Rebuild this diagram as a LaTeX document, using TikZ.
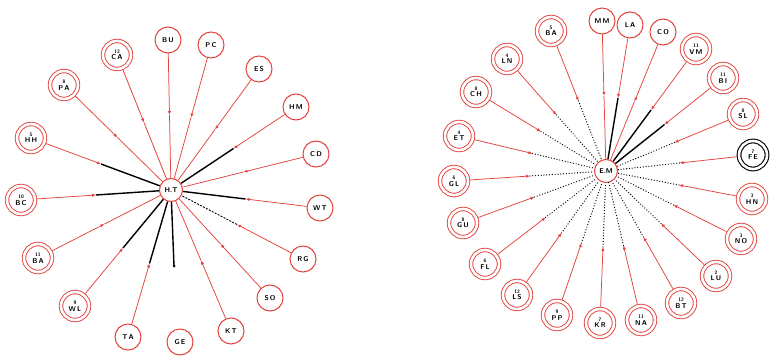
\documentclass[tikz,border=0pt]{standalone}
\usetikzlibrary{calc,arrows.meta}
\definecolor{myred}{RGB}{228,66,60}
\tikzset{
  lbl/.style={font=\sffamily\bfseries\fontsize{7}{6.5}\selectfont},
  sgl/.style={circle,draw=myred,line width=1pt,minimum size=26pt,inner sep=0pt,fill=white,lbl},
  dbl/.style={circle,draw=myred,line width=0.9pt,double=white,double distance=2.6pt,minimum size=28pt,inner sep=0pt,outer sep=2.2pt,fill=white,align=center,lbl},
  ctr/.style={circle,draw=myred,line width=1pt,minimum size=23pt,inner sep=0pt,fill=white,lbl},
  redln/.style={draw=myred,line width=0.75pt},
  blk/.style={draw=black,line width=1.4pt},
  dsh/.style={draw=black,line width=0.9pt,dash pattern=on 2pt off 1.3pt},
  dts/.style={draw=black,line width=1.3pt,line cap=round,dash pattern=on 0pt off 2.8pt},
  tipm/.style={-{Latex[length=4pt,width=3.2pt]}},
}
\newcommand{\nm}[1]{{\fontsize{5}{5}\selectfont #1}}
\newcommand{\mkspoke}[3]{%
  \draw[redln,tipm] (#1) -- ($(#1)!0.5!(#2)$) coordinate (m#1);
  \draw[#3] (m#1) -- (#2);}
\begin{document}
\begin{tikzpicture}[x=1pt,y=-1pt]
\useasboundingbox (0,0) rectangle (770,358);
% ---------- left sociogram ----------
\node[ctr] (HT) at (171,190) {H.T};
\node[dbl] (lCA) at (117,55) {\nm{12}\\C\,A};
\node[sgl] (lBU) at (168,40) {B\,U};
\node[sgl] (lPC) at (211,45) {P\,C};
\node[sgl] (lES) at (259,69) {E\,S};
\node[sgl] (lHM) at (296,107) {H\,M};
\node[sgl] (lCD) at (316,154) {C\,D};
\node[sgl] (lWT) at (320,208) {W\,T};
\node[sgl] (lRG) at (303,259) {R\,G};
\node[sgl] (lSO) at (270,298) {S\,O};
\node[sgl] (lKT) at (231,331) {K\,T};
\node[sgl] (lGE) at (180,342) {G\,E};
\node[sgl] (lTA) at (128,337) {T\,A};
\node[dbl] (lWL) at (75,306) {\nm{9}\\W\,L};
\node[dbl] (lBA) at (38,258) {\nm{11}\\B\,A};
\node[dbl] (lBC) at (21,200) {\nm{10}\\B\,C};
\node[dbl] (lHH) at (31,138) {\nm{5}\\H\,H};
\node[dbl] (lPA) at (64,85) {\nm{8}\\P\,A};
\foreach \n/\s in {lCA/redln,lBU/redln,lPC/redln,lES/redln,lHM/blk,lCD/redln,
  lWT/blk,lRG/dsh,lSO/redln,lKT/redln,lTA/blk,lWL/blk,lBA/redln,lBC/blk,lHH/blk,lPA/redln}
  {\mkspoke{\n}{HT}{\s}}
\coordinate (gestub) at (174,266);
\draw[blk] (HT) -- (gestub);
\fill (gestub) circle (1.5pt);
% ---------- right sociogram ----------
\node[ctr] (EM) at (606,171) {E.M};
\node[dbl] (rBA) at (551,31) {\nm{5}\\B\,A};
\node[sgl] (rMM) at (602,21) {M\,M};
\node[sgl] (rLA) at (630,25) {L\,A};
\node[sgl] (rCO) at (663,32) {C\,O};
\node[dbl] (rVM) at (696,49) {\nm{11}\\V\,M};
\node[dbl] (rBI) at (723,78) {\nm{11}\\B\,I};
\node[dbl] (rSL) at (743,114) {\nm{8}\\S\,L};
\node[dbl,draw=black,line width=1.1pt] (rFE) at (753,155) {\nm{7}\\F\,E};
\node[dbl] (rHN) at (752,199) {\nm{3}\\H\,N};
\node[dbl] (rNO) at (741,239) {\nm{3}\\N\,O};
\node[dbl] (rLU) at (716,276) {\nm{2}\\L\,U};
\node[dbl] (rBT) at (681,303) {\nm{12}\\B\,T};
\node[dbl] (rNA) at (641,320) {\nm{11}\\N\,A};
\node[dbl] (rKR) at (600,323) {\nm{7}\\K\,R};
\node[dbl] (rPP) at (557,315) {\nm{9}\\P\,P};
\node[dbl] (rLS) at (517,295) {\nm{12}\\L\,S};
\node[dbl] (rFL) at (485,264) {\nm{6}\\F\,L};
\node[dbl] (rGU) at (463,223) {\nm{8}\\G\,U};
\node[dbl] (rGL) at (454,181) {\nm{6}\\G\,L};
\node[dbl] (rET) at (459,136) {\nm{4}\\E\,T};
\node[dbl] (rCH) at (476,92) {\nm{8}\\C\,H};
\node[dbl] (rLN) at (507,59) {\nm{4}\\L\,N};
\foreach \n/\s in {rBA/dts,rMM/redln,rLA/blk,rCO/redln,rVM/blk,rBI/blk,rSL/dts,rFE/dts,
  rHN/dts,rNO/dts,rLU/dts,rBT/dts,rNA/dts,rKR/dts,rPP/dts,rLS/dts,rFL/dts,rGU/dts,
  rGL/dts,rET/dts,rCH/dts,rLN/dts}
  {\mkspoke{\n}{EM}{\s}}
\end{tikzpicture}
\end{document}
